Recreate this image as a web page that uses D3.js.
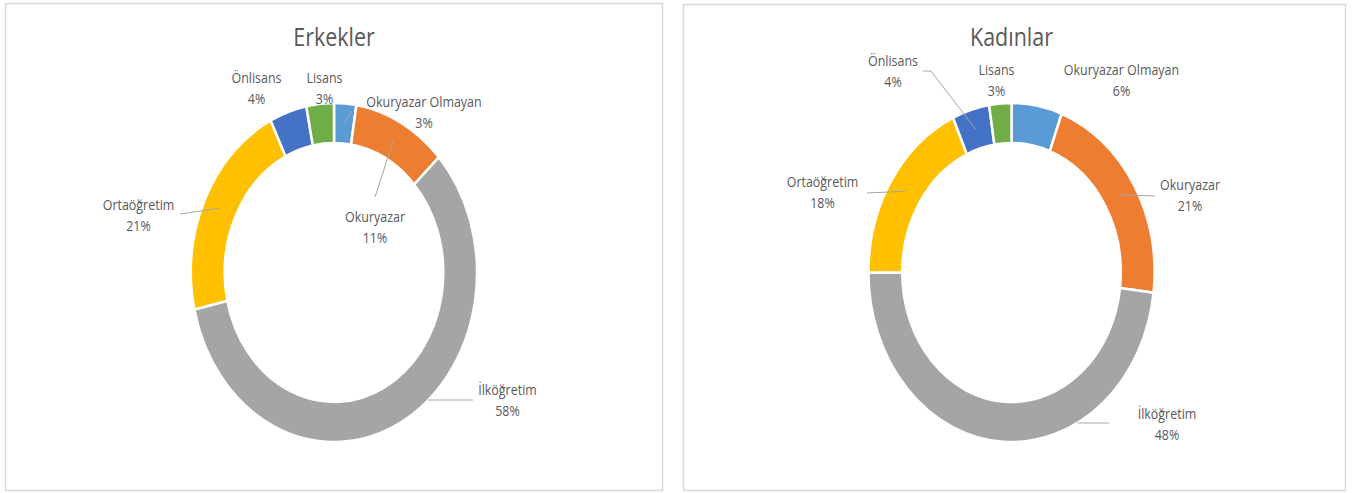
<!DOCTYPE html>
<html>
<head>
<meta charset="utf-8">
<script src="https://cdn.jsdelivr.net/npm/d3@7"></script>
<style>
  body { margin: 0; background: #fff; }
  text { font-family: "Open Sans", sans-serif; fill: #595959; }
</style>
</head>
<body>
<svg id="chart" width="1355" height="493"></svg>
<script>
// data
const categories = ['Okuryazar Olmayan', 'Okuryazar', 'İlköğretim', 'Ortaöğretim', 'Önlisans', 'Lisans'];
const erkekler = [2.5, 10.6, 58.4, 21.2, 4.2, 3.1];
const kadinlar = [5.7, 21.2, 48.1, 18.3, 4.2, 2.5];
const titles = ['Erkekler', 'Kadınlar'];

const colors = ['#5B9BD5', '#ED7D31', '#A5A5A5', '#FFC000', '#4472C4', '#70AD47'];

// label layout, offsets from the donut centre (Excel "best fit" placement)
const layouts = [
    {
        'Okuryazar Olmayan': {tx: 90, ty: -165.5, ls: [18, -161.5]},
        'Okuryazar': {tx: 41, ty: -50.5, ls: [41, -75.5]},
        'İlköğretim': {tx: 173.5, ty: 122.5, ls: [139, 127.5], edge: true},
        'Ortaöğretim': {tx: -195.5, ty: -62.5, ls: [-154, -58.5]},
        'Önlisans': {tx: -77.5, ty: -189.5},
        'Lisans': {tx: -9.5, ty: -189.5}
    },
    {
        'Okuryazar Olmayan': {tx: 110, ty: -197.5},
        'Okuryazar': {tx: 178.5, ty: -82.5, ls: [143.5, -76.5]},
        'İlköğretim': {tx: 155.5, ty: 146.5, ls: [97.5, 150.5], edge: true},
        'Ortaöğretim': {tx: -189, ty: -85.5, ls: [-144.5, -79.5]},
        'Önlisans': {tx: -118.5, ty: -206.5, ls: [-88.5, -201.5], elbow: [-80.5, -201.5]},
        'Lisans': {tx: -15, ty: -197.5}
    }
];

const svg = d3.select('svg#chart');
const panels = [
    {x: 5.5, y: 3.5, w: 657, h: 487, cx: 334, cy: 272.5},
    {x: 683.5, y: 4.5, w: 662, h: 486, cx: 1011.5, cy: 272.5}
];
const outerR = 169.5;
const innerR = 129.5;
const sx = 0.844;     // the picture is squeezed horizontally
const fx = 0.86;      // text squeeze

const pie = d3.pie().sort(null).value(d => d);
const arc = d3.arc().innerRadius(innerR).outerRadius(outerR);

function drawDonut(values, title, p, layout) {
    svg.append('rect')
        .attr('x', p.x).attr('y', p.y)
        .attr('width', p.w).attr('height', p.h)
        .attr('fill', '#fff')
        .attr('stroke', '#d9d9d9')
        .attr('stroke-width', 1.5);

    svg.append('text')
        .attr('transform', `translate(${p.cx},46) scale(${fx},1)`)
        .attr('text-anchor', 'middle')
        .style('font-size', '25px')
        .text(title);

    const arcs = pie(values);
    const total = d3.sum(values);

    svg.append('g')
        .attr('transform', `translate(${p.cx},${p.cy}) scale(${sx},1)`)
        .selectAll('path')
        .data(arcs)
        .join('path')
        .attr('d', arc)
        .attr('fill', (d, i) => colors[i])
        .attr('stroke', '#fff')
        .attr('stroke-width', 2.5)
        .attr('vector-effect', 'non-scaling-stroke');

    const g = svg.append('g');
    arcs.forEach((d, i) => {
        const cat = categories[i];
        const L = layout[cat];
        const tx = p.cx + L.tx, ty = p.cy + L.ty;

        if (L.ls) {
            let end;
            const sy = p.cy + L.ls[1];
            if (L.edge) {
                // point on the outer rim at the leader's height
                const t = (sy - p.cy) / outerR;
                end = [p.cx + sx * outerR * Math.sqrt(1 - t * t) * Math.sign(L.ls[0]), sy];
            } else {
                const c = arc.centroid(d);
                end = [p.cx + sx * c[0], p.cy + c[1]];
            }
            const pts = [[p.cx + L.ls[0], sy]];
            if (L.elbow) pts.push([p.cx + L.elbow[0], p.cy + L.elbow[1]]);
            pts.push(end);
            g.append('path')
                .attr('d', d3.line()(pts))
                .attr('fill', 'none')
                .attr('stroke', '#a6a6a6')
                .attr('stroke-width', 1);
        }

        const t = g.append('text')
            .attr('transform', `translate(${tx},${ty}) scale(${fx},1)`)
            .attr('text-anchor', 'middle')
            .style('font-size', '14.5px');
        t.append('tspan').attr('x', 0).attr('y', 0).text(cat);
        t.append('tspan').attr('x', 0).attr('y', 21)
            .text(Math.round(d.data / total * 100) + '%');
    });
}

drawDonut(erkekler, titles[0], panels[0], layouts[0]);
drawDonut(kadinlar, titles[1], panels[1], layouts[1]);
</script>
</body>
</html>
